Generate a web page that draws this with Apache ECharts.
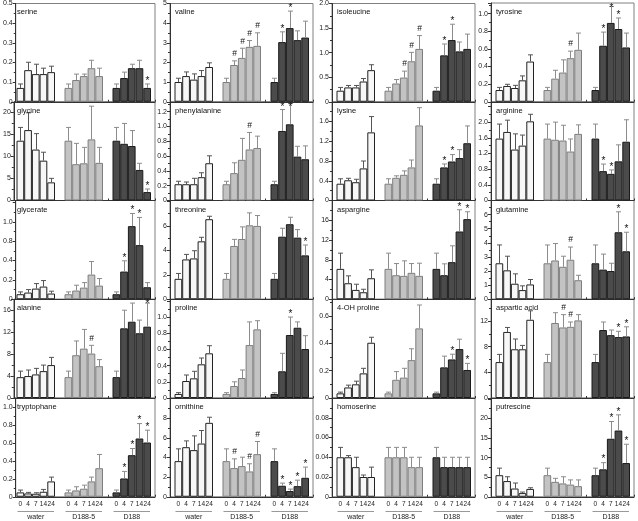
<!DOCTYPE html>
<html><head><meta charset="utf-8">
<script src="https://cdn.jsdelivr.net/npm/echarts@6/dist/echarts.min.js"></script>
<style>html,body{margin:0;padding:0;background:#fff}#c{width:638px;height:521px}</style>
</head><body><div id="c"></div>
<script>
// ---------------- DATA ----------------
const timePoints = ['0', '4', '7', '14', '24'];
const groups = ['water', 'D188-5', 'D188'];
// panels in column order (column 1 top→bottom, then column 2 ...)
const metabolites = ['serine', 'glycine', 'glycerate', 'alanine', 'tryptophane',
  'valine', 'phenylalanine', 'threonine', 'proline', 'ornithine',
  'isoleucine', 'lysine', 'aspargine', '4-OH proline', 'homoserine',
  'tyrosine', 'arginine', 'glutamine', 'aspartic acid', 'putrescine'];
// 15 means per panel: water 0,4,7,14,24 | D188-5 0..24 | D188 0..24
const means = [
  [0.07,0.16,0.14,0.14,0.15, 0.07,0.11,0.13,0.17,0.13, 0.07,0.12,0.17,0.17,0.07],
  [13.5,15.9,11.5,9.0,4.1, 13.5,8.2,8.4,13.8,8.5, 13.5,12.8,12.3,6.9,1.9],
  [0.052,0.069,0.11,0.131,0.059, 0.052,0.09,0.12,0.255,0.141, 0.052,0.286,0.755,0.559,0.124],
  [3.8,4.0,4.3,4.9,6.0, 3.8,7.8,9.0,8.1,5.8, 3.8,12.7,13.9,11.8,13.0],
  [0.049,0.037,0.034,0.056,0.172, 0.049,0.071,0.09,0.172,0.32, 0.049,0.205,0.466,0.653,0.608],
  [1.0,1.3,1.12,1.3,1.76, 1.0,1.86,2.22,2.78,2.83, 1.0,3.02,3.73,3.12,3.25],
  [0.22,0.22,0.22,0.315,0.504, 0.22,0.37,0.55,0.69,0.71, 0.22,0.94,1.03,0.593,0.558],
  [1.67,3.26,3.34,4.74,6.55, 1.67,4.36,4.93,6.05,6.0, 1.67,5.12,6.14,5.04,3.59],
  [0.05,0.21,0.243,0.416,0.552, 0.05,0.148,0.247,0.654,0.848, 0.05,0.33,0.778,0.868,0.605],
  [3.63,5.05,4.75,5.42,7.53, 3.63,2.92,3.12,2.58,4.34, 3.63,1.12,0.58,1.08,1.93],
  [0.224,0.29,0.29,0.41,0.64, 0.224,0.37,0.49,0.82,1.07, 0.224,0.94,1.25,1.02,1.07],
  [0.34,0.41,0.37,0.65,1.38, 0.34,0.46,0.52,0.67,1.52, 0.34,0.67,0.79,0.86,1.16],
  [6.17,3.25,1.9,1.42,4.27, 6.17,4.88,4.75,5.36,4.75, 6.17,4.88,7.53,13.76,16.27],
  [0.034,0.077,0.1,0.18,0.404, 0.034,0.133,0.149,0.277,0.509, 0.034,0.224,0.282,0.358,0.205],
  [0.04,0.04,0.03,0.02,0.02, 0.04,0.04,0.04,0.03,0.03, 0.04,0.03,0.03,0.03,0.03],
  [0.133,0.179,0.156,0.243,0.456, 0.133,0.262,0.331,0.494,0.589, 0.133,0.635,0.894,0.825,0.616],
  [1.58,1.75,1.3,1.4,2.02, 1.58,1.55,1.53,1.25,1.7, 1.58,0.75,0.68,1.0,1.5],
  [2.55,2.05,1.1,0.65,1.05, 2.55,2.75,2.3,2.8,1.35, 2.55,2.1,2.0,4.75,3.4],
  [5.6,10.3,7.6,7.6,12.2, 5.6,11.7,11.0,11.1,12.1, 5.6,10.6,9.8,9.5,9.6],
  [5.5,4.0,2.1,0.93,2.0, 5.5,3.8,3.4,3.1,2.7, 5.5,7.0,14.8,16.9,8.6]
];
// upper error (SD) per bar
const sds = [
  [0.02,0.04,0.05,0.03,0.03, 0.02,0.03,0.01,0.04,0.04, 0.02,0.03,0.02,0.04,0.02],
  [3.0,3.9,3.6,1.9,0.9, 3.0,4.7,3.6,7.5,3.5, 3.0,4.6,3.5,1.5,0.7],
  [0.024,0.031,0.052,0.062,0.024, 0.024,0.055,0.052,0.135,0.073, 0.024,0.111,0.131,0.286,0.048],
  [1.1,1.1,1.1,1.1,1.4, 1.1,2.6,3.5,1.5,1.2, 1.1,3.3,3.4,2.4,4.3],
  [0.026,0.012,0.011,0.026,0.048, 0.026,0.041,0.04,0.048,0.154, 0.026,0.079,0.075,0.167,0.138],
  [0.19,0.21,0.29,0.28,0.21, 0.19,0.21,0.49,0.32,0.66, 0.19,0.52,0.86,0.47,0.83],
  [0.04,0.03,0.08,0.06,0.10, 0.04,0.14,0.29,0.23,0.16, 0.04,0.29,0.28,0.14,0.18],
  [0.44,0.41,0.63,0.33,0.24, 0.44,0.54,0.99,1.02,0.85, 0.44,0.69,0.57,0.66,0.85],
  [0.016,0.074,0.087,0.078,0.094, 0.016,0.052,0.099,0.286,0.107, 0.016,0.222,0.222,0.072,0.165],
  [1.25,0.64,1.45,1.33,0.57, 1.25,0.94,0.91,0.78,1.29, 1.25,0.27,0.2,0.61,1.09],
  [0.066,0.04,0.04,0.06,0.11, 0.066,0.08,0.13,0.18,0.27, 0.066,0.23,0.32,0.19,0.30],
  [0.10,0.04,0.06,0.15,0.32, 0.10,0.04,0.08,0.15,0.36, 0.10,0.07,0.14,0.17,0.35],
  [3.19,1.5,1.15,0.61,1.7, 3.19,2.37,3.05,1.89,2.57, 3.19,2.31,3.32,4.41,1.49],
  [0.009,0.017,0.023,0.037,0.04, 0.009,0.06,0.068,0.083,0.171, 0.009,0.082,0.038,0.072,0.048],
  [0.01,0.0017,0.01,0.002,0.01, 0.01,0.01,0.01,0.01,0.01, 0.01,0.01,0.01,0.01,0.01],
  [0.03,0.019,0.03,0.05,0.076, 0.03,0.095,0.144,0.08,0.19, 0.03,0.155,0.186,0.125,0.163],
  [0.37,0.3,0.4,0.27,0.18, 0.37,0.45,0.39,0.32,0.23, 0.37,0.18,0.1,0.42,0.56],
  [1.3,1.0,0.7,0.3,0.35, 1.3,1.2,0.75,0.9,0.35, 1.3,1.1,0.55,1.45,1.35],
  [1.2,0.7,1.6,0.6,1.4, 1.2,1.6,2.0,0.75,0.9, 1.2,1.25,0.8,0.9,1.5],
  [1.8,1.1,1.4,0.27,0.3, 1.8,0.9,1.7,1.2,1.6, 1.8,1.7,4.4,4.0,4.8]
];
// significance marks per bar ('.' = none)
const marks = [
  '..............*', '..............*', '...........***.', '........#.....*', '...........****',
  '......####.**..', '........#..**..', '..............*', '............*..', '......#.##.****',
  '.......###.**..', '...........**..', '.............**', '............*.*', '...............',
  '........#..***.', '...........**..', '........#....**', '.......##....**', '...........****'
];
const axisMax = [0.5, 22.3, 1.02, 18, 1.107, 5, 1.335, 8.08, 1.22, 10.06,
  2.0, 2.0, 20.05, 0.722, 0.1, 1.12, 2.52, 7.0, 15.4, 25.2];
const axisStep = [0.1, 5, 0.2, 4, 0.2, 1, 0.2, 2, 0.2, 2,
  0.5, 0.4, 4, 0.2, 0.02, 0.2, 0.4, 1, 4, 5];
const tickLabels = [
  ['0','0.1','0.2','0.3','0.4','0.5'], ['0','5','10','15','20'], ['0','0.2','0.4','0.8','1.0'],
  ['0','4','8','12','16'], ['0','0.2','0.4','0.6','0.8','1.0'],
  ['0','1','2','3','4','5'], ['0','0.2','0.4','0.6','0.8','1.0','1.2'], ['0','2','4','6'],
  ['0','0.2','0.4','0.6','0.8','1.0'], ['0','2','4','6','8'],
  ['0','0.5','1.0','1.5','2.0'], ['0','0.4','0.8','1.2','1.6'], ['0','4','8','12','16'],
  ['0','0.2','0.4','0.6'], ['0','0.02','0.04','0.06','0.08'],
  ['0','0.2','0.4','0.6','0.8','1.0'], ['0','0.4','0.8','1.2','1.6','2.0'], ['0','1','2','3','4','5','6'],
  ['0','4','8','12'], ['0','5','10','15','20']
];

// ---------------- LAYOUT / STYLE ----------------
const FONT = '"Liberation Sans", Arial, sans-serif';
const colLeft = [12, 170, 332, 491];
const panelW = 143, top0 = 3, rowH = 98.75;
const groupOff = [4.5, 52.5, 100.5], groupW = 38.5;
const barFill = ['#f7f7f7', '#c3c3c3', '#4b4b4b'];
const barBorder = ['#222222', '#7e7e7e', '#1a1a1a'];
const errColor = ['#555555', '#8c8c8c', '#8c8c8c'];

const grid = [], xAxis = [], yAxis = [], series = [], title = [], graphic = [];

metabolites.forEach((name, p) => {
  const c = Math.floor(p / 5), r = p % 5;
  const top = top0 + r * rowH, left = colLeft[c];
  const step = axisStep[p], labels = tickLabels[p];
  const gi = grid.length;
  grid.push({ left, top, width: panelW, height: rowH, show: true, borderColor: '#808080', borderWidth: 1 });
  xAxis.push({ gridIndex: gi, type: 'category', data: groups, boundaryGap: true,
    axisLine: { lineStyle: { color: '#333', width: 1 } },
    axisTick: { show: true, inside: true, length: 2, lineStyle: { color: '#333' } },
    axisLabel: { show: false }, splitLine: { show: false } });
  yAxis.push({ gridIndex: gi, type: 'value', min: 0, max: axisMax[p], interval: step,
    axisLine: { show: true, lineStyle: { color: '#333' } },
    axisTick: { show: true, length: 3, lineStyle: { color: '#333' } },
    minorTick: { show: true, splitNumber: 2, length: 2, lineStyle: { color: '#333' } },
    splitLine: { show: false }, minorSplitLine: { show: false },
    axisLabel: { fontSize: 7, color: '#222', fontFamily: FONT, margin: 3,
      formatter: v => { const k = Math.round(v / step);
        return (Math.abs(v - k * step) < step * 1e-6 && labels[k] !== undefined) ? labels[k] : ''; } } });
  title.push({ text: name, left: left + 5, top: top + 5, padding: 0,
    textStyle: { fontSize: 7.5, fontWeight: 'normal', color: '#111', fontFamily: FONT } });

  groups.forEach((g, k) => {
    const bi = grid.length;
    const gx = left + groupOff[k];
    grid.push({ left: gx, top, width: groupW, height: rowH, show: false });
    xAxis.push({ gridIndex: bi, type: 'category', data: timePoints,
      axisLine: { show: false }, axisTick: { show: false },
      axisLabel: { show: r === 4, interval: 0, fontSize: 6.5, color: '#222', fontFamily: FONT, margin: 4 } });
    yAxis.push({ gridIndex: bi, type: 'value', min: 0, max: axisMax[p], show: false });
    const m = means[p].slice(k * 5, k * 5 + 5);
    const s = sds[p].slice(k * 5, k * 5 + 5);
    const mk = marks[p].slice(k * 5, k * 5 + 5);
    series.push({ type: 'bar', xAxisIndex: bi, yAxisIndex: bi, data: m, barWidth: '100%', silent: true,
      itemStyle: { color: barFill[k], borderColor: barBorder[k], borderWidth: 1 } });
    const col = errColor[k];
    series.push({ type: 'custom', xAxisIndex: bi, yAxisIndex: bi, silent: true, z: 3,
      data: m.map((v, i) => [i, v, v + s[i]]),
      renderItem: (params, api) => {
        const a = api.coord([api.value(0), api.value(1)]);
        const b = api.coord([api.value(0), api.value(2)]);
        const x = Math.round(a[0]) + 0.5;
        const topY = params.coordSys.y;
        const ch = [
          { type: 'line', shape: { x1: x, y1: a[1], x2: x, y2: b[1] }, style: { stroke: col, lineWidth: 1 } },
          { type: 'line', shape: { x1: x - 2.5, y1: b[1], x2: x + 2.5, y2: b[1] }, style: { stroke: col, lineWidth: 1 } }
        ];
        const t = mk[params.dataIndex];
        if (t === '*') ch.push({ type: 'text', z2: 5, style: { text: '*', x: x, y: Math.max(b[1] - 3, topY + 5), align: 'center', verticalAlign: 'middle', fontSize: 10, fontFamily: FONT, fill: '#111' } });
        if (t === '#') ch.push({ type: 'text', z2: 5, style: { text: '#', x: x, y: Math.max(b[1] - 7, topY + 6), align: 'center', verticalAlign: 'middle', fontSize: 8.5, fontFamily: FONT, fill: '#111' } });
        return { type: 'group', children: ch };
      } });
    if (r === 4) {
      graphic.push({ type: 'line', shape: { x1: gx + 1, y1: 511.5, x2: gx + groupW - 1, y2: 511.5 }, style: { stroke: '#999', lineWidth: 1.2 } });
      graphic.push({ type: 'text', x: gx + groupW / 2, y: 517.5, style: { text: g, align: 'center', verticalAlign: 'middle', textAlign: 'center', textVerticalAlign: 'middle', fontSize: 7, fontFamily: FONT, fill: '#222' } });
    }
  });
});

const chart = echarts.init(document.getElementById('c'), null, { renderer: 'canvas' });
chart.setOption({ backgroundColor: '#fff', animation: false, title, grid, xAxis, yAxis, series, graphic });
</script></body></html>
